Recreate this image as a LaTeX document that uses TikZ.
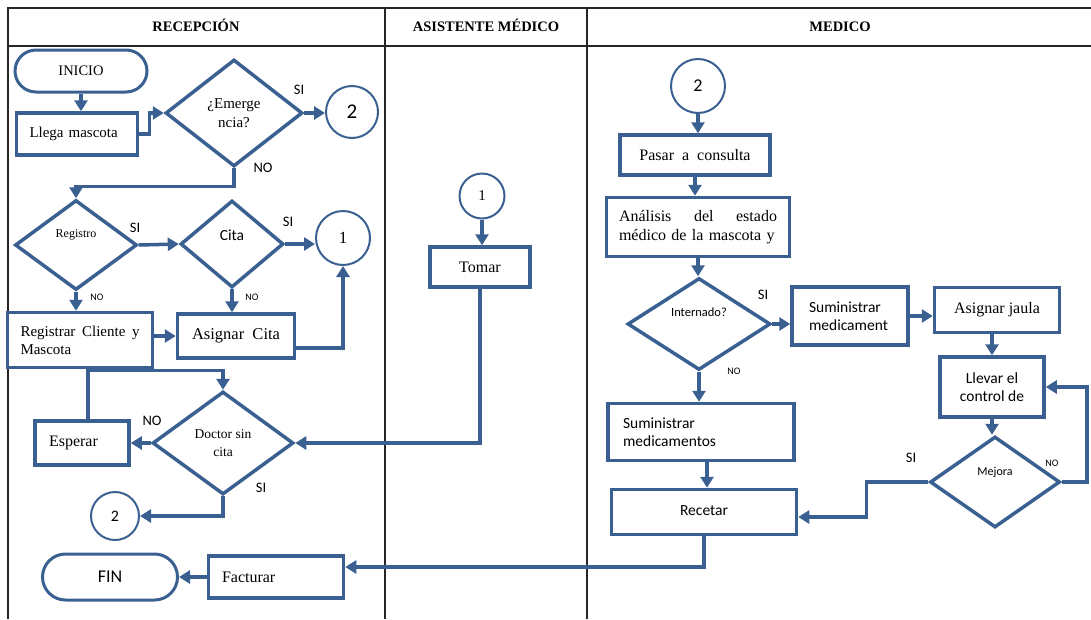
\documentclass[tikz,border=0pt]{standalone}
\usepackage{fontspec}
\setmainfont{Liberation Serif}
\newfontfamily\calibri{Carlito}
\usetikzlibrary{shapes.geometric,arrows.meta}
\definecolor{azul}{RGB}{58,96,145}

\begin{document}
\begin{tikzpicture}[x=1pt, y=-1pt, line width = 1pt,
  caja/.style={draw=azul, line width=3.5pt, rectangle, inner sep=2pt},
  rombo/.style={draw=azul, line width=3.5pt, diamond, inner sep=0pt, align=center},
  conector/.style={draw=azul, line width=2pt, circle, inner sep=0pt},
  terminal/.style={draw=azul, line width=3pt, rectangle},
  flecha/.style={draw=azul, line width=3.5pt, -{Triangle[length=11pt,width=13pt]}},
  tabla/.style={draw=black!85, line width=1.2pt},
  serif/.style={font=\fontsize{16}{18.5}\selectfont},
  sans/.style={font=\calibri\fontsize{15.5}{18.5}\selectfont},
  etiq/.style={font=\calibri\fontsize{14.5}{16}\selectfont},
  etiqc/.style={font=\calibri\fontsize{10}{12}\selectfont},
  titulo/.style={font=\bfseries\fontsize{14.5}{17}\selectfont, anchor=base}]

\useasboundingbox (0,0) rectangle (1091,619);

\draw[tabla] (1091,8) -- (8,8) -- (8,619);
\draw[tabla] (8,46) -- (1091,46);
\draw[tabla] (385,8) -- (385,619);
\draw[tabla] (587,8) -- (587,619);

\node [titulo] (hrec) at (196,31) {RECEPCIÓN};
\node [titulo] (hasis) at (486,31) {ASISTENTE MÉDICO};
\node [titulo] (hmed) at (840,31) {MEDICO};

% recepcion
\node [terminal, rounded corners=21pt, minimum width=132pt, minimum height=42pt, font=\fontsize{14.5}{17}\selectfont] (inicio) at (81,71) {INICIO};
\node [caja, serif, minimum width=121pt, minimum height=42pt, text width=95pt, align=left, font=\fontsize{15}{17}\selectfont] (llega) at (77,134) {Llega mascota};
\node [rombo, minimum width=137pt, minimum height=107pt, font=\fontsize{15}{19}\selectfont] (emerg) at (234,113) {¿Emerge\\ncia?};
\node [conector, minimum size=52pt, font=\calibri\fontsize{21}{24}\selectfont] (dos1) at (352,112) {2};

\node [rombo, minimum width=122pt, minimum height=90pt, font=\fontsize{12}{14}\selectfont] (regis) at (76,245) {\raisebox{8pt}[0pt][0pt]{Registro}};
\node [rombo, minimum width=103pt, minimum height=87pt, sans] (cita) at (232,244) {\raisebox{4pt}[0pt][0pt]{Cita}};
\node [conector, minimum size=54pt, font=\fontsize{17}{20}\selectfont] (uno1) at (343,238) {1};

\node [caja, minimum width=145pt, minimum height=55pt, text width=119pt, align=left, font=\fontsize{15}{18}\selectfont] (regcli) at (80,340) {Registrar \hfill Cliente \hfill y\\Mascota};
\node [caja, minimum width=117pt, minimum height=44pt, font=\fontsize{16.5}{19}\selectfont] (asigcita) at (236,336) {Asignar\ \ Cita};

\node [caja, serif, minimum width=94pt, minimum height=44pt, text width=66pt, align=left] (esperar) at (82,443) {Esperar};
\node [rombo, minimum width=141pt, minimum height=103pt, font=\fontsize{13.5}{18}\selectfont] (doctor) at (223,443) {Doctor sin\\cita};
\node [conector, minimum size=48pt, font=\calibri\fontsize{16}{18}\selectfont] (dos2) at (115,516) {2};

\node [terminal, rounded corners=23pt, minimum width=135pt, minimum height=46pt, font=\calibri\fontsize{18}{20}\selectfont] (fin) at (110,577) {FIN};
\node [caja, serif, minimum width=135pt, minimum height=42pt, text width=108pt, align=left] (facturar) at (276,577) {Facturar};

% asistente medico
\node [conector, minimum size=45pt, font=\fontsize{15}{17}\selectfont] (uno2) at (482,196) {1};
\node [caja, serif, minimum width=100pt, minimum height=40pt] (tomar) at (480,267) {Tomar};

% medico
\node [conector, minimum size=54pt, font=\calibri\fontsize{18}{20}\selectfont] (dos3) at (698,86) {2};
\node [caja, serif, minimum width=150pt, minimum height=40pt] (pasar) at (695,155) {Pasar\ \ a\ \ consulta};
\node [caja, serif, minimum width=183pt, minimum height=59pt, text width=158pt, align=left] (analisis) at (698,227) {Análisis \hfill del \hfill estado\\médico de la mascota y};
\node [rombo, minimum width=143pt, minimum height=92pt, font=\calibri\fontsize{12.5}{14}\selectfont] (intern) at (699,324) {\raisebox{8pt}[0pt][0pt]{Internado?}};
\node [caja, sans, minimum width=116pt, minimum height=58pt, text width=82pt, align=left] (sumin1) at (850,316) {Suministrar\\medicament};
\node [caja, serif, minimum width=125pt, minimum height=45pt] (jaula) at (997,310) {\raisebox{2pt}{Asignar jaula}};
\node [caja, sans, minimum width=104pt, minimum height=60pt, align=center] (llevar) at (992,387) {Llevar el\\control de};
\node [rombo, minimum width=130pt, minimum height=91pt, font=\calibri\fontsize{12}{14}\selectfont] (mejora) at (995,482) {\raisebox{7pt}[0pt][0pt]{Mejora}};
\node [caja, sans, minimum width=186pt, minimum height=57pt, text width=156pt, align=left] (sumin2) at (701,432) {Suministrar\\medicamentos};
\node [caja, sans, minimum width=185pt, minimum height=45pt] (recetar) at (704,512) {\raisebox{3pt}{Recetar}};

% etiquetas
\node [etiq] (si1) at (299,90) {SI};
\node [etiq] (no1) at (263,168) {NO};
\node [etiq] (si2) at (135,228) {SI};
\node [etiq] (si3) at (288,222) {SI};
\node [etiqc] (no2) at (97,297) {NO};
\node [etiqc] (no3) at (252,297) {NO};
\node [etiq] (no4) at (152,421) {NO};
\node [etiq] (si4) at (261,488) {SI};
\node [etiq] (si5) at (763,295) {SI};
\node [etiqc] (no5) at (734,371) {NO};
\node [etiq] (si6) at (911,458) {SI};
\node [etiqc] (no6) at (1052,463) {NO};

\draw[flecha] (inicio.south) -- (inicio.south |- llega.north);
\draw[flecha] (llega.east) -- ++(10,0) |- (emerg.west);
\draw[flecha] (emerg.east) -- (emerg.east -| dos1.west);
\draw[flecha] (emerg.south) -- ++(0,18) -| (regis.north);
\draw[flecha] (regis.east) -- (cita.west);
\draw[flecha] (cita.east) -- (cita.east -| uno1.west);
\draw[flecha] (regis.south) -- (regis.south |- regcli.north);
\draw[flecha] (cita.south) -- (cita.south |- asigcita.north);
\draw[flecha] (regcli.east |- asigcita.west) -- (asigcita.west);
\draw[flecha] ([yshift=-12pt]asigcita.east) -| (uno1.south);
\draw[flecha] ([xshift=6pt]esperar.north) -- ++(0,-49) -| (doctor.north);
\draw[flecha] (doctor.west) -- (doctor.west -| esperar.east);
\draw[flecha] (doctor.south) |- (dos2.east);
\draw[flecha] (uno2.south) -- (uno2.south |- tomar.north);
\draw[flecha] (tomar.south) |- (doctor.east);
\draw[flecha] (facturar.west) -- (fin.east);
\draw[flecha] (recetar.south) |- ([yshift=10pt]facturar.east);

\draw[flecha] (dos3.south) -- (dos3.south |- pasar.north);
\draw[flecha] (pasar.south) -- (pasar.south |- analisis.north);
\draw[flecha] (analisis.south) -- (analisis.south |- intern.north);
\draw[flecha] (intern.east) -- (intern.east -| sumin1.west);
\draw[flecha] (sumin1.east) -- (sumin1.east -| jaula.west);
\draw[flecha] (llevar.north |- jaula.south) -- (llevar.north);
\draw[flecha] (llevar.south) -- (llevar.south |- mejora.north);
\draw[flecha] (mejora.east) -- ++(25,0) |- (llevar.east);
\draw[flecha] (mejora.west) -- ++(-62,0) |- ([yshift=-5pt]recetar.east);
\draw[flecha] (intern.south) -- (intern.south |- sumin2.north);
\draw[flecha] ([xshift=6pt]sumin2.south) -- ([xshift=6pt]sumin2.south |- recetar.north);

\end{tikzpicture}
\end{document}
